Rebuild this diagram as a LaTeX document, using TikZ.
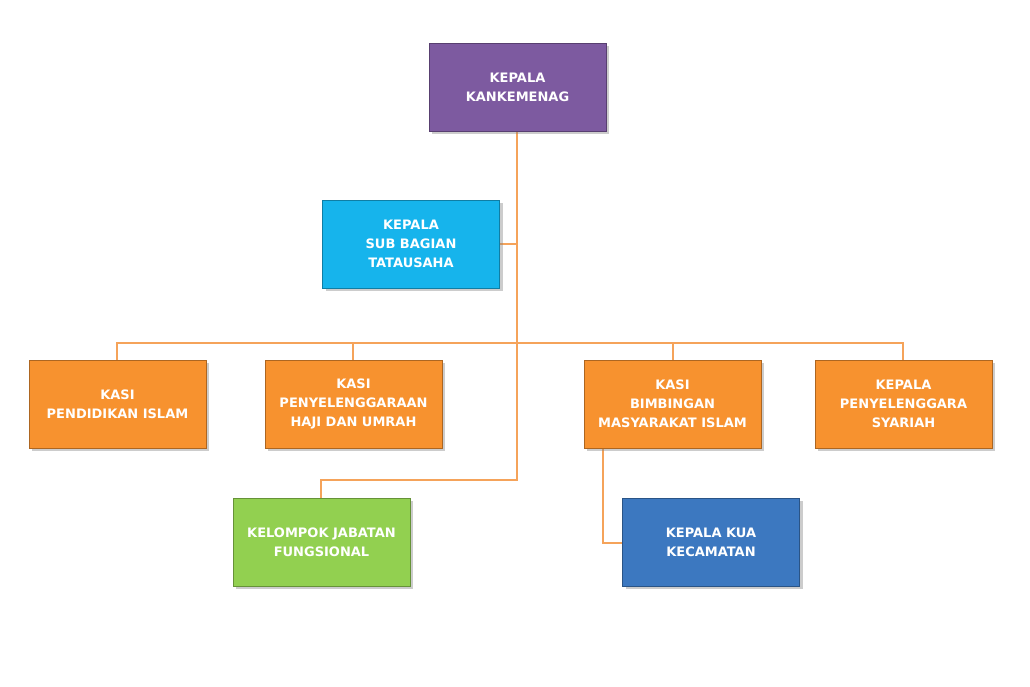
\documentclass[tikz,border=0pt]{standalone}
\usepackage{fontspec}
\setmainfont{DejaVu Sans}
\begin{document}
\begin{tikzpicture}[x=1pt,y=-1pt,
  box/.style={draw=#1!70!black,line width=1pt,fill=#1,minimum width=177pt,minimum height=88pt,
    inner sep=2pt,align=center,text=white,font=\bfseries\fontsize{13}{19}\selectfont,
    drop shadow={shadow xshift=3pt,shadow yshift=-3pt,opacity=0.4}},
  link/.style={draw=lineC,line width=2pt}]
\usetikzlibrary{shadows}
\definecolor{purp}{HTML}{7D5AA0}
\definecolor{cyanC}{HTML}{16B4EC}
\definecolor{oraC}{HTML}{F7922F}
\definecolor{grnC}{HTML}{92D050}
\definecolor{bluC}{HTML}{3C78C0}
\definecolor{lineC}{HTML}{F5A35A}
\useasboundingbox (0,0) rectangle (1030,686);
\fill[white] (0,0) rectangle (1030,686);
\coordinate (t1) at (517,244);
\coordinate (t2) at (517,343);
\coordinate (t3) at (517,480);
\coordinate (h1) at (117,343);
\coordinate (h2) at (353,343);
\coordinate (h3) at (673,343);
\coordinate (h4) at (903,343);
\coordinate (g1) at (321,480);
\coordinate (k1) at (603,543);
\draw[link] (517,131) -- (t3) -- (g1) -- (321,498);
\draw[link] (500,244) -- (t1);
\draw[link] (117,360) -- (h1) -- (h4) -- (903,360);
\draw[link] (h2) -- (353,360);
\draw[link] (h3) -- (673,360);
\draw[link] (603,448) -- (k1) -- (622,543);
\node[box=purp] (a) at (517.5,87) {KEPALA\\KANKEMENAG};
\node[box=cyanC] (b) at (411,244) {KEPALA\\SUB BAGIAN\\TATAUSAHA};
\node[box=oraC] (c1) at (117.5,404) {KASI\\PENDIDIKAN ISLAM};
\node[box=oraC] (c2) at (353.5,404) {KASI\\PENYELENGGARAAN\\HAJI DAN UMRAH};
\node[box=oraC] (c3) at (672.5,404) {KASI\\BIMBINGAN\\MASYARAKAT ISLAM};
\node[box=oraC] (c4) at (903.5,404) {KEPALA\\PENYELENGGARA\\SYARIAH};
\node[box=grnC] (d) at (321.5,542) {KELOMPOK JABATAN\\FUNGSIONAL};
\node[box=bluC] (e) at (711,542) {KEPALA KUA\\KECAMATAN};
\end{tikzpicture}
\end{document}
